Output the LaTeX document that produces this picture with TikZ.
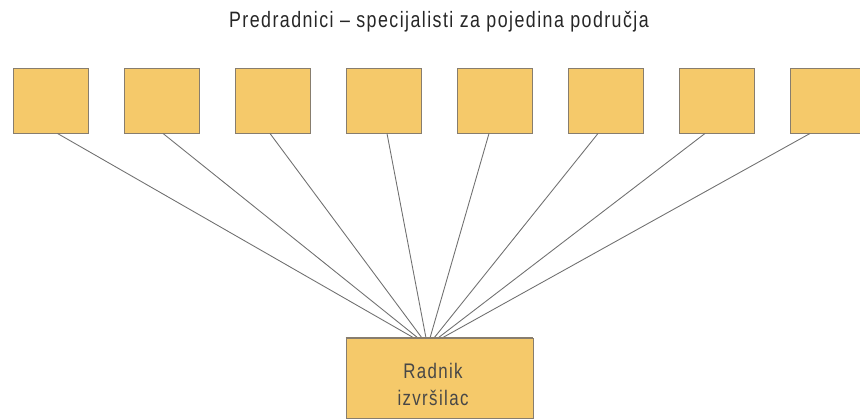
\documentclass[tikz,border=0pt]{standalone}
\usepackage{fontspec}
\setmainfont{Liberation Sans}[FakeStretch=0.8, LetterSpace=6.5]
\usepackage{tikz}

\definecolor{boxfill}{HTML}{F5C96A}
\definecolor{boxline}{HTML}{877D6E}
\definecolor{wire}{HTML}{707070}

\tikzset{
  specbox/.style={draw=boxline, fill=boxfill, line width=0.8pt,
    minimum width=2.25cm, minimum height=1.95cm, inner sep=0pt},
  workerbox/.style={draw=boxline, fill=boxfill, line width=0.8pt,
    minimum width=5.61cm, minimum height=2.4cm, inner sep=0pt},
  workertext/.style={align=center, font=\fontsize{18}{23}\selectfont, text=black!72},
  wire/.style={draw=wire, line width=0.75pt}
}

\begin{document}
\begin{tikzpicture}[x=0.03cm, y=-0.03cm]
            \useasboundingbox (0,0) rectangle (860,420);
            \clip (0,0) rectangle (860,420);
            % naslov
            \draw(439,22) node[font=\fontsize{19}{21}\selectfont, text=black!85] (naslov)
              {Predradnici -- specijalisti za pojedina područja};
            % predradnici
            \foreach \i in {1,...,8} {
              \draw(-60.5+111*\i,100.5) node[specbox] (p\i){};
              \coordinate (k\i) at (410+4*\i,338);
            }
            % radnik
            \draw(439.5,378) node[workerbox] (radnik){};
            \draw(433,384) node[workertext] (radniktxt){Radnik\\izvršilac};
            % veze
            \foreach \i/\xs in {1/7, 2/1.5, 3/-2.5, 4/3.5, 5/-5.5, 6/-7.5, 7/-11.5, 8/-17.5}
              \draw[wire] ([xshift=\xs*0.03cm]p\i.south) -- (k\i);
            \draw[draw=boxline, line width=0.8pt] (radnik.north west) -- (radnik.north east);
\end{tikzpicture}
\end{document}
